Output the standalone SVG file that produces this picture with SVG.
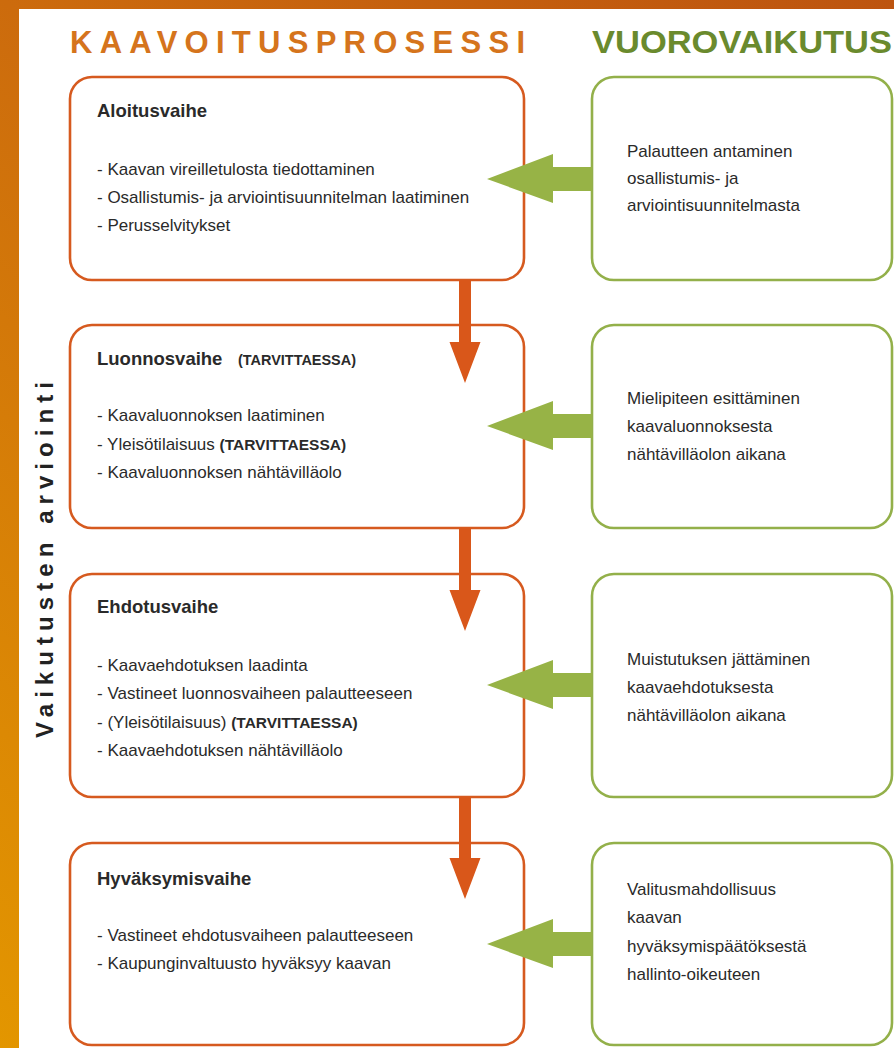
<svg xmlns="http://www.w3.org/2000/svg" width="894" height="1048" viewBox="0 0 894 1048">
<defs>
<linearGradient id="bg" gradientUnits="userSpaceOnUse" x1="894" y1="0" x2="0" y2="1048">
<stop offset="0" stop-color="#bd540f"/>
<stop offset="0.42" stop-color="#cc6b0d"/>
<stop offset="1" stop-color="#e39600"/>
</linearGradient>
<style>
.ob{fill:#fff;stroke:#d65a1f;stroke-width:2.6}
.gb{fill:#fff;stroke:#93b04a;stroke-width:2.6}
.oa{fill:#d9571a}
.ga{fill:#97b346}
text{font-family:"Liberation Sans",Arial,sans-serif;fill:#2a2a2a}
.h{font-size:18.5px;font-weight:bold}
.t{font-size:17px}
.b{font-weight:bold}
.s{font-size:15px;font-weight:bold}
</style>
</defs>
<rect x="0" y="0" width="894" height="1048" fill="url(#bg)"/>
<rect x="19" y="9" width="875" height="1039" fill="#fff"/>

<text x="70" y="53" font-size="31" font-weight="bold" style="fill:#d5741c" textLength="455" lengthAdjust="spacing">KAAVOITUSPROSESSI</text>
<text x="592" y="53" font-size="32" font-weight="bold" style="fill:#6a8a2d" textLength="300" lengthAdjust="spacingAndGlyphs">VUOROVAIKUTUS</text>
<text transform="translate(53,738) rotate(-90)" font-size="24" font-weight="bold" style="fill:#222" textLength="356" lengthAdjust="spacing">Vaikutusten arviointi</text>

<g id="aloitus">
<rect class="ob" x="70" y="77" width="454" height="203" rx="22"/>
<text class="h" x="97" y="117">Aloitusvaihe</text>
<text class="t" x="97" y="175">- Kaavan vireilletulosta tiedottaminen</text>
<text class="t" x="97" y="203">- Osallistumis- ja arviointisuunnitelman laatiminen</text>
<text class="t" x="97" y="231">- Perusselvitykset</text>
</g>
<g id="luonnos">
<rect class="ob" x="70" y="325" width="454" height="203" rx="22"/>
<text class="h" x="97" y="365">Luonnosvaihe</text>
<text class="s" x="238" y="365" textLength="118" lengthAdjust="spacingAndGlyphs">(TARVITTAESSA)</text>
<text class="t" x="97" y="421">- Kaavaluonnoksen laatiminen</text>
<text class="t" x="97" y="450">- Yleisötilaisuus <tspan class="b" font-size="15.5">(TARVITTAESSA)</tspan></text>
<text class="t" x="97" y="478">- Kaavaluonnoksen nähtävilläolo</text>
</g>
<g id="ehdotus">
<rect class="ob" x="70" y="574" width="454" height="223" rx="22"/>
<text class="h" x="97" y="613">Ehdotusvaihe</text>
<text class="t" x="97" y="671">- Kaavaehdotuksen laadinta</text>
<text class="t" x="97" y="699">- Vastineet luonnosvaiheen palautteeseen</text>
<text class="t" x="97" y="728">- (Yleisötilaisuus) <tspan class="b" font-size="15.5">(TARVITTAESSA)</tspan></text>
<text class="t" x="97" y="756">- Kaavaehdotuksen nähtävilläolo</text>
</g>
<g id="hyvaksymis">
<rect class="ob" x="70" y="843" width="454" height="202" rx="22"/>
<text class="h" x="97" y="885">Hyväksymisvaihe</text>
<text class="t" x="97" y="941">- Vastineet ehdotusvaiheen palautteeseen</text>
<text class="t" x="97" y="969">- Kaupunginvaltuusto hyväksyy kaavan</text>
</g>

<g id="palaute">
<rect class="gb" x="592" y="77" width="300" height="203" rx="22"/>
<text class="t" x="627" y="157">Palautteen antaminen</text>
<text class="t" x="627" y="184">osallistumis- ja</text>
<text class="t" x="627" y="211">arviointisuunnitelmasta</text>
</g>
<g id="mielipide">
<rect class="gb" x="592" y="325" width="300" height="203" rx="22"/>
<text class="t" x="627" y="404">Mielipiteen esittäminen</text>
<text class="t" x="627" y="432">kaavaluonnoksesta</text>
<text class="t" x="627" y="460">nähtävilläolon aikana</text>
</g>
<g id="muistutus">
<rect class="gb" x="592" y="574" width="300" height="223" rx="22"/>
<text class="t" x="627" y="665">Muistutuksen jättäminen</text>
<text class="t" x="627" y="693">kaavaehdotuksesta</text>
<text class="t" x="627" y="721">nähtävilläolon aikana</text>
</g>
<g id="valitus">
<rect class="gb" x="592" y="843" width="300" height="202" rx="22"/>
<text class="t" x="627" y="895">Valitusmahdollisuus</text>
<text class="t" x="627" y="923">kaavan</text>
<text class="t" x="627" y="952">hyväksymispäätöksestä</text>
<text class="t" x="627" y="980">hallinto-oikeuteen</text>
</g>

<g id="connectors">
<path class="oa" d="M459 280H471V342H480.5L465 383L449.5 342H459Z"/>
<path class="oa" d="M459 528H471V590H480.5L465 631L449.5 590H459Z"/>
<path class="oa" d="M459 797H471V858H480.5L465 899L449.5 858H459Z"/>
<path class="ga" d="M592 167V191H553V203L487 179L553 154V167Z"/>
<path class="ga" d="M592 414V438H553V450L487 426L553 401V414Z"/>
<path class="ga" d="M592 673V697H553V709L487 685L553 660V673Z"/>
<path class="ga" d="M592 932V956H553V968L487 944L553 919V932Z"/>
</g>
</svg>
